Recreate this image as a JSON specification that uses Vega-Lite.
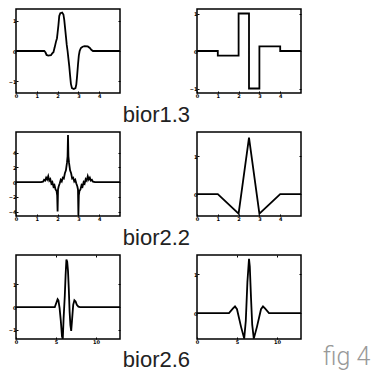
{
  "$schema": "https://vega.github.io/schema/vega-lite/v6.json",
  "background": "white",
  "padding": {"left": 7, "top": 8, "right": 0, "bottom": 0},
  "bounds": "full",
  "spacing": 4,
  "config": {
    "view": {"stroke": "black", "strokeWidth": 1.5},
    "axis": {
      "domain": false, "grid": false, "title": null,
      "ticks": true, "tickSize": -2, "tickColor": "black", "tickWidth": 1,
      "labelFontSize": 5, "labelFont": "DejaVu Sans", "labelFontWeight": "bold",
      "labelColor": "black", "labelPadding": 2, "labelFlush": false, "labelOverlap": false
    },
    "line": {"color": "black", "strokeWidth": 1.8, "clip": true}
  },
  "title": {"text": "fig 4", "orient": "bottom", "anchor": "end", "dx": 65, "offset": -26,
            "font": "Roboto", "fontWeight": 300, "fontSize": 25, "color": "#999999"},
  "vconcat": [
    {
      "bounds": "flush", "spacing": 77,
      "title": {"text": "bior1.3", "orient": "bottom", "anchor": "middle", "offset": 6,
                "font": "Liberation Sans", "fontWeight": "normal", "fontSize": 22, "color": "#222222"},
      "hconcat": [
        {
          "width": 104, "height": 84,
          "data": {"values": [
            {"x":0,"y":0},{"x":1.36,"y":0},{"x":1.42,"y":-0.05},{"x":1.47,"y":-0.13},{"x":1.55,"y":-0.15},{"x":1.68,"y":-0.14},{"x":1.74,"y":-0.08},{"x":1.8,"y":-0.04},{"x":1.86,"y":0.12},{"x":1.92,"y":0.3},{"x":1.97,"y":0.42},{"x":2.0,"y":0.6},{"x":2.04,"y":0.85},{"x":2.08,"y":1.15},{"x":2.13,"y":1.24},{"x":2.22,"y":1.26},{"x":2.28,"y":1.2},{"x":2.32,"y":1.02},{"x":2.36,"y":0.75},{"x":2.4,"y":0.48},{"x":2.44,"y":0.2},{"x":2.48,"y":0},{"x":2.52,"y":-0.25},{"x":2.56,"y":-0.5},{"x":2.6,"y":-0.8},{"x":2.64,"y":-1.08},{"x":2.69,"y":-1.22},{"x":2.78,"y":-1.25},{"x":2.86,"y":-1.22},{"x":2.9,"y":-1.1},{"x":2.94,"y":-0.8},{"x":2.98,"y":-0.45},{"x":3.02,"y":-0.15},{"x":3.06,"y":0},{"x":3.12,"y":0.1},{"x":3.2,"y":0.14},{"x":3.3,"y":0.16},{"x":3.45,"y":0.15},{"x":3.55,"y":0.1},{"x":3.62,"y":0.04},{"x":3.7,"y":0},{"x":5,"y":0}
          ]},
          "layer": [
            {"mark": {"type": "line"},
             "encoding": {
               "x": {"field": "x", "type": "quantitative", "scale": {"domain": [0, 5], "nice": false, "zero": false}, "axis": {"orient": "bottom", "values": [0,1,2,3,4]}},
               "y": {"field": "y", "type": "quantitative", "scale": {"domain": [-1.38, 1.38], "nice": false, "zero": false}, "axis": {"orient": "left", "values": [-1,0,1]}}}},
            {"mark": {"type": "line", "opacity": 0},
             "encoding": {
               "x": {"field": "x", "type": "quantitative", "axis": null},
               "y": {"field": "y", "type": "quantitative", "axis": {"orient": "right", "labels": false, "values": [-1,0,1]}}}}
          ],
          "resolve": {"axis": {"x": "independent", "y": "independent"}}
        },
        {
          "width": 104, "height": 84,
          "data": {"values": [
            {"x":0,"y":0},{"x":1,"y":-0.125},{"x":2,"y":1},{"x":2.5,"y":-1},{"x":3,"y":0.125},{"x":4,"y":0},{"x":5,"y":0}
          ]},
          "layer": [
            {"mark": {"type": "line", "interpolate": "step-after"},
             "encoding": {
               "x": {"field": "x", "type": "quantitative", "scale": {"domain": [0, 5], "nice": false, "zero": false}, "axis": {"orient": "bottom", "values": [0,1,2,3,4]}},
               "y": {"field": "y", "type": "quantitative", "scale": {"domain": [-1.12, 1.12], "nice": false, "zero": false}, "axis": {"orient": "left", "values": [-1,0,1]}}}},
            {"mark": {"type": "line", "opacity": 0},
             "encoding": {
               "x": {"field": "x", "type": "quantitative", "axis": null},
               "y": {"field": "y", "type": "quantitative", "axis": {"orient": "right", "labels": false, "values": [-1,0,1]}}}}
          ],
          "resolve": {"axis": {"x": "independent", "y": "independent"}}
        }
      ]
    },
    {
      "bounds": "flush", "spacing": 77,
      "title": {"text": "bior2.2", "orient": "bottom", "anchor": "middle", "offset": 6,
                "font": "Liberation Sans", "fontWeight": "normal", "fontSize": 22, "color": "#222222"},
      "hconcat": [
        {
          "width": 104, "height": 84,
          "data": {"values": [
            {"x":0,"y":0},{"x":1.2,"y":0},{"x":1.3,"y":0.05},{"x":1.35,"y":0.3},{"x":1.4,"y":0.2},{"x":1.45,"y":0.6},{"x":1.5,"y":0.35},{"x":1.55,"y":0.8},{"x":1.6,"y":0.2},{"x":1.65,"y":0.4},{"x":1.7,"y":-0.2},{"x":1.75,"y":0},{"x":1.8,"y":-0.6},{"x":1.85,"y":-0.4},{"x":1.9,"y":-1.0},{"x":1.95,"y":-1.2},{"x":1.98,"y":-1.8},{"x":2.0,"y":-4.0},{"x":2.02,"y":-1.0},{"x":2.05,"y":-0.6},{"x":2.1,"y":-0.2},{"x":2.15,"y":0.3},{"x":2.2,"y":0.1},{"x":2.25,"y":0.6},{"x":2.3,"y":0.5},{"x":2.35,"y":1.2},{"x":2.4,"y":1.6},{"x":2.45,"y":2.6},{"x":2.48,"y":3.5},{"x":2.5,"y":6.4},{"x":2.52,"y":3.5},{"x":2.55,"y":2.6},{"x":2.6,"y":1.6},{"x":2.65,"y":1.2},{"x":2.7,"y":0.5},{"x":2.75,"y":0.6},{"x":2.8,"y":0.1},{"x":2.85,"y":0.3},{"x":2.9,"y":-0.2},{"x":2.95,"y":-0.6},{"x":2.98,"y":-1.0},{"x":3.0,"y":-4.5},{"x":3.02,"y":-1.8},{"x":3.05,"y":-1.2},{"x":3.1,"y":-1.0},{"x":3.15,"y":-0.4},{"x":3.2,"y":-0.6},{"x":3.25,"y":0},{"x":3.3,"y":-0.2},{"x":3.35,"y":0.4},{"x":3.4,"y":0.2},{"x":3.45,"y":0.8},{"x":3.5,"y":0.35},{"x":3.55,"y":0.6},{"x":3.6,"y":0.2},{"x":3.65,"y":0.3},{"x":3.7,"y":0.05},{"x":3.8,"y":0},{"x":5,"y":0}
          ]},
          "layer": [
            {"mark": {"type": "line"},
             "encoding": {
               "x": {"field": "x", "type": "quantitative", "scale": {"domain": [0, 5], "nice": false, "zero": false}, "axis": {"orient": "bottom", "values": [0,1,2,3,4]}},
               "y": {"field": "y", "type": "quantitative", "scale": {"domain": [-4.6, 6.8], "nice": false, "zero": false}, "axis": {"orient": "left", "values": [-4,-2,0,2,4]}}}},
            {"mark": {"type": "line", "opacity": 0},
             "encoding": {
               "x": {"field": "x", "type": "quantitative", "axis": null},
               "y": {"field": "y", "type": "quantitative", "axis": {"orient": "right", "labels": false, "values": [-4,-2,0,2,4]}}}}
          ],
          "resolve": {"axis": {"x": "independent", "y": "independent"}}
        },
        {
          "width": 104, "height": 84,
          "data": {"values": [
            {"x":0,"y":0},{"x":1,"y":0},{"x":2,"y":-0.52},{"x":2.5,"y":1.5},{"x":3,"y":-0.52},{"x":4,"y":0},{"x":5,"y":0}
          ]},
          "layer": [
            {"mark": {"type": "line"},
             "encoding": {
               "x": {"field": "x", "type": "quantitative", "scale": {"domain": [0, 5], "nice": false, "zero": false}, "axis": {"orient": "bottom", "values": [0,1,2,3,4]}},
               "y": {"field": "y", "type": "quantitative", "scale": {"domain": [-0.58, 1.65], "nice": false, "zero": false}, "axis": {"orient": "left", "values": [0,1]}}}},
            {"mark": {"type": "line", "opacity": 0},
             "encoding": {
               "x": {"field": "x", "type": "quantitative", "axis": null},
               "y": {"field": "y", "type": "quantitative", "axis": {"orient": "right", "labels": false, "values": [0,1]}}}}
          ],
          "resolve": {"axis": {"x": "independent", "y": "independent"}}
        }
      ]
    },
    {
      "bounds": "flush", "spacing": 77,
      "title": {"text": "bior2.6", "orient": "bottom", "anchor": "middle", "offset": 5,
                "font": "Liberation Sans", "fontWeight": "normal", "fontSize": 22, "color": "#222222"},
      "hconcat": [
        {
          "width": 104, "height": 84,
          "data": {"values": [
            {"x":0,"y":0},{"x":4.85,"y":0},{"x":5.0,"y":0.15},{"x":5.2,"y":0.35},{"x":5.3,"y":0.3},{"x":5.45,"y":-0.05},{"x":5.6,"y":-0.6},{"x":5.75,"y":-1.3},{"x":5.85,"y":-1.4},{"x":5.95,"y":-0.5},{"x":6.1,"y":0.5},{"x":6.2,"y":1.4},{"x":6.3,"y":2.1},{"x":6.4,"y":2.0},{"x":6.5,"y":1.6},{"x":6.6,"y":0.8},{"x":6.7,"y":-0.2},{"x":6.8,"y":-0.8},{"x":6.9,"y":-1.05},{"x":7.0,"y":-0.6},{"x":7.15,"y":0.1},{"x":7.3,"y":0.3},{"x":7.45,"y":0.25},{"x":7.6,"y":0.1},{"x":7.8,"y":0.02},{"x":8.0,"y":0},{"x":13,"y":0}
          ]},
          "layer": [
            {"mark": {"type": "line"},
             "encoding": {
               "x": {"field": "x", "type": "quantitative", "scale": {"domain": [0, 13], "nice": false, "zero": false}, "axis": {"orient": "bottom", "values": [0,5,10]}},
               "y": {"field": "y", "type": "quantitative", "scale": {"domain": [-1.41, 2.3], "nice": false, "zero": false}, "axis": {"orient": "left", "values": [-1,0,1]}}}},
            {"mark": {"type": "line", "opacity": 0},
             "encoding": {
               "x": {"field": "x", "type": "quantitative", "axis": {"orient": "top", "labels": false, "values": [5,10]}},
               "y": {"field": "y", "type": "quantitative", "axis": {"orient": "right", "labels": false, "values": [-1,0,1]}}}}
          ],
          "resolve": {"axis": {"x": "independent", "y": "independent"}}
        },
        {
          "width": 104, "height": 84,
          "data": {"values": [
            {"x":0,"y":0},{"x":4.0,"y":0},{"x":4.5,"y":0.12},{"x":4.75,"y":0.17},{"x":5.0,"y":0.1},{"x":5.5,"y":-0.35},{"x":5.9,"y":-0.66},{"x":6.1,"y":-0.2},{"x":6.3,"y":0.8},{"x":6.5,"y":1.4},{"x":6.6,"y":1.2},{"x":6.75,"y":0.4},{"x":6.9,"y":-0.3},{"x":7.1,"y":-0.66},{"x":7.5,"y":-0.35},{"x":8.0,"y":0.1},{"x":8.25,"y":0.17},{"x":8.5,"y":0.12},{"x":9.0,"y":0},{"x":13,"y":0}
          ]},
          "layer": [
            {"mark": {"type": "line"},
             "encoding": {
               "x": {"field": "x", "type": "quantitative", "scale": {"domain": [0, 13], "nice": false, "zero": false}, "axis": {"orient": "bottom", "values": [0,5,10]}},
               "y": {"field": "y", "type": "quantitative", "scale": {"domain": [-0.67, 1.5], "nice": false, "zero": false}, "axis": {"orient": "left", "values": [0,1]}}}},
            {"mark": {"type": "line", "opacity": 0},
             "encoding": {
               "x": {"field": "x", "type": "quantitative", "axis": {"orient": "top", "labels": false, "values": [5,10]}},
               "y": {"field": "y", "type": "quantitative", "axis": {"orient": "right", "labels": false, "values": [0,1]}}}}
          ],
          "resolve": {"axis": {"x": "independent", "y": "independent"}}
        }
      ]
    }
  ]
}
